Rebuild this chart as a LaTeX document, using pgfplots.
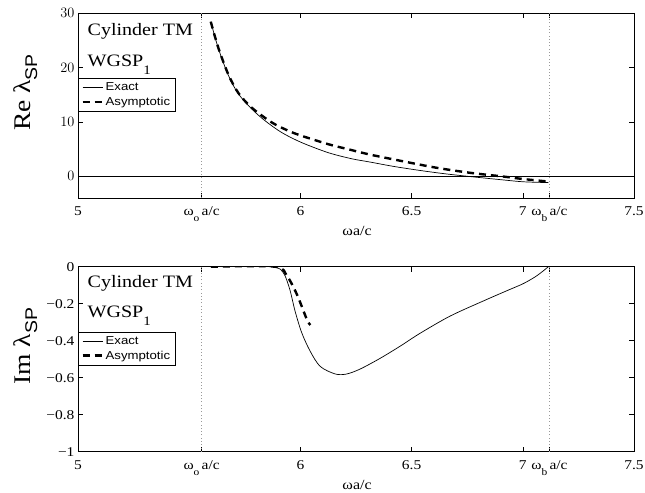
\documentclass[border=0pt]{standalone}
\usepackage{fontspec}
\setmainfont{Liberation Serif}[FakeStretch=1.15]
\newfontfamily\sansf{Liberation Sans}[FakeStretch=1.15]
\usepackage{pgfplots}
\pgfplotsset{compat=1.18}
\newcommand\sub[1]{\raisebox{-6bp}{\fontsize{10}{10}\selectfont #1}}
\newcommand\txtsub[1]{\raisebox{-8bp}{\fontsize{13}{13}\selectfont #1}}
\newcommand\ysub[1]{\raisebox{-7bp}{\fontsize{17}{17}\selectfont #1}}
\pgfplotsset{
  panel/.style={
    width=556bp, height=185bp, scale only axis,
    xmin=5, xmax=7.5,
    xtick={5,5.556,6,6.5,7,7.12,7.5},
    xticklabels={5, ω\sub{o}\,a/c, 6, 6.5, 7, ω\sub{b}\,a/c, 7.5},
    tick align=inside, xtick pos=both, ytick pos=both,
    major tick length=5bp,
    axis line style={line width=0.8bp},
    every tick/.style={black, line width=0.6bp},
    tick label style={font=\fontsize{13.5}{13.5}\selectfont},
    xticklabel style={anchor=base, yshift=-18bp},
    xlabel={ωa/c},
    xlabel style={font=\fontsize{14}{14}\selectfont, at={(axis description cs:0.502,0)}, anchor=base, yshift=-37.5bp},
    ylabel style={font=\fontsize{24}{24}\selectfont, at={(axis description cs:-0.0863,0.57)}, anchor=base, rotate=0},
    legend style={at={(rel axis cs:0,0.649)}, anchor=north west,
      font=\sansf\fontsize{11.5}{12}\selectfont, draw=black, line width=0.6bp,
      inner xsep=3bp, inner ysep=2.5bp, row sep=1bp},
    legend cell align=left,
    legend image code/.code={\draw[#1] (0bp,0bp) -- (20bp,0bp);},
  },
  exact/.style={black, line width=0.7bp, smooth, tension=0.5},
  asym/.style={black, line width=2.4bp, dash pattern=on 7bp off 5bp, smooth, tension=0.5},
  vline/.style={gray!80, line width=0.7bp, dash pattern=on 0.7bp off 2.6bp},
}
\begin{document}
\begin{tikzpicture}
\path[use as bounding box] (0,0) rectangle (645bp,493bp);
% ---------- top panel ----------
\begin{axis}[panel, at={(78bp,295bp)}, anchor=south west,
  ymin=-4, ymax=30, ytick={0,10,20,30},
  ylabel={Re λ\ysub{\sansf SP}}]
\addplot[exact] coordinates {
(5.597,28.4) (5.631,23.5) (5.676,18.55) (5.721,15.15) (5.781,12.37)
(5.841,10.2) (5.916,8.03) (6.006,6.18) (6.126,4.32) (6.231,3.21)
(6.314,2.60) (6.42,1.80) (6.538,1.06) (6.65,0.45) (6.763,-0.06)
(6.88,-0.55) (6.988,-0.98) (7.05,-1.10) (7.115,-1.17)};
\addlegendentry{Exact}
\addplot[asym] coordinates {
(5.597,28.4) (5.631,23.6) (5.676,18.7) (5.721,15.3) (5.781,12.6)
(5.871,9.89) (5.946,8.35) (6.006,7.42) (6.126,5.88) (6.216,4.95)
(6.314,3.97) (6.463,2.73) (6.613,1.55) (6.763,0.63) (6.913,-0.06)
(6.996,-0.49) (7.115,-0.98)};
\addlegendentry{Asymptotic}
\addplot[black, line width=0.7bp, forget plot] coordinates {(5,0) (7.5,0)};
\addplot[vline, forget plot] coordinates {(5.556,-4) (5.556,30)};
\addplot[vline, forget plot] coordinates {(7.12,-4) (7.12,30)};
\node[anchor=base west, font=\fontsize{17.5}{17.5}\selectfont] at (rel axis cs:0.011,0.881) {Cylinder TM};
\node[anchor=base west, font=\fontsize{17.5}{17.5}\selectfont] at (rel axis cs:0.011,0.71) {WGSP\txtsub{1}};
\end{axis}
% ---------- bottom panel ----------
\begin{axis}[panel, at={(78bp,41.3bp)}, anchor=south west,
  ymin=-1, ymax=0, ytick={-1,-0.8,-0.6,-0.4,-0.2,0},
  yticklabels={−1,−0.8,−0.6,−0.4,−0.2,0},
  ylabel={Im λ\ysub{\sansf SP}}]
\addplot[exact] coordinates {
(5.86,0) (5.879,0) (5.909,-0.013) (5.931,-0.049) (5.954,-0.13) (5.976,-0.24)
(6.006,-0.357) (6.044,-0.457) (6.089,-0.539) (6.157,-0.580) (6.208,-0.580)
(6.269,-0.553) (6.359,-0.495) (6.448,-0.430) (6.538,-0.360) (6.673,-0.267)
(6.823,-0.185) (6.928,-0.13) (7.003,-0.091) (7.063,-0.049) (7.115,0)};
\addlegendentry{Exact}
\addplot[asym] coordinates {
(5.597,0) (5.886,0) (5.939,-0.049) (5.984,-0.149) (6.029,-0.285) (6.045,-0.315)};
\addlegendentry{Asymptotic}
\addplot[vline, forget plot] coordinates {(5.556,-1) (5.556,0)};
\addplot[vline, forget plot] coordinates {(7.12,-1) (7.12,0)};
\node[anchor=base west, font=\fontsize{17.5}{17.5}\selectfont] at (rel axis cs:0.011,0.888) {Cylinder TM};
\node[anchor=base west, font=\fontsize{17.5}{17.5}\selectfont] at (rel axis cs:0.011,0.725) {WGSP\txtsub{1}};
\end{axis}
\end{tikzpicture}
\end{document}
